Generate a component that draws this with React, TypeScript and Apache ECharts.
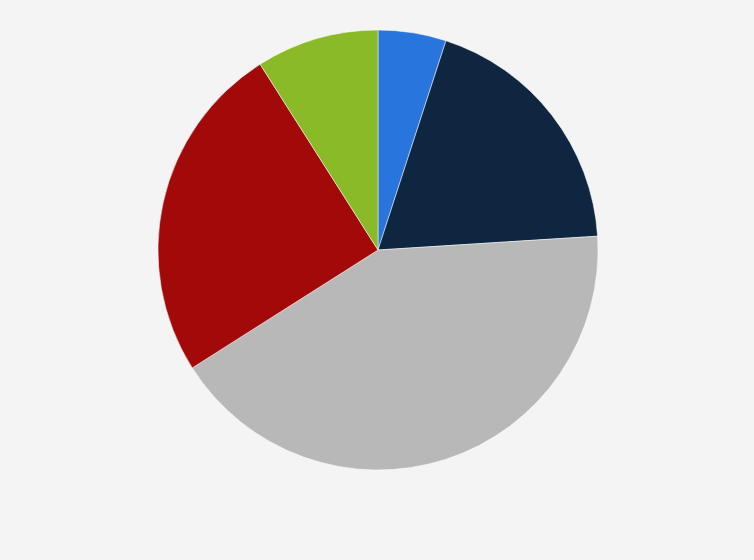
import React, { useEffect, useRef } from "react";
import * as echarts from "echarts";

const categories = ["A", "B", "C", "D", "E"];
const values = [5, 19, 42, 25, 9];
const colors = ["#2876dd", "#0f2640", "#b8b8b8", "#a20a0a", "#8aba27"];

export default function App() {
  const ref = useRef<HTMLDivElement>(null);
  useEffect(() => {
    document.body.style.margin = "0";
    const chart = echarts.init(ref.current!, null, { renderer: "svg" });
    chart.setOption({
      animation: false,
      backgroundColor: "#f4f4f4",
      series: [
        {
          type: "pie",
          center: [378, 250],
          radius: 220,
          startAngle: 90,
          clockwise: true,
          label: { show: false },
          labelLine: { show: false },
          itemStyle: { borderColor: "#ffffff", borderWidth: 0.5 },
          data: categories.map((c, i) => ({
            name: c,
            value: values[i],
            itemStyle: { color: colors[i] },
          })),
        },
      ],
    });
    return () => chart.dispose();
  }, []);
  return <div ref={ref} style={{ width: 754, height: 560 }} />;
}
